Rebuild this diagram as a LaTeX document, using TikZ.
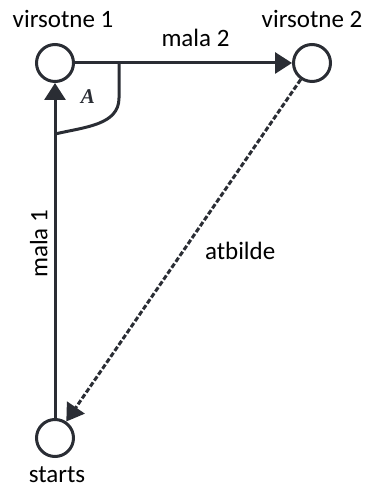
\documentclass[tikz,border=0pt]{standalone}
\usepackage{fontspec}
\setmainfont{Carlito}
\newfontfamily\anglefont{Liberation Serif}
\usepackage{tikz}
\usetikzlibrary{arrows.meta,positioning,calc}
\definecolor{edgegray}{HTML}{2A2D34}

\begin{document}
\begin{tikzpicture}[
				x=0.5pt,y=-0.5pt,
				every node/.style={font=\fontsize{12.5}{15}\selectfont},
				vert/.style={circle,draw=edgegray,line width=1.5pt,fill=white,
						minimum size=18.5pt,inner sep=0pt},
				lbl/.style={inner sep=0pt,text=black},
				flow/.style={-{Triangle[length=8.5pt,width=10.5pt]},line width=1.5pt,edgegray},
				back/.style={flow,dash pattern=on 2.5pt off 1.1pt}]

				\useasboundingbox (0,0) rectangle (367,485);

				\node[vert] (v1) at (55,63) {};
				\node[vert] (v2) at (312,63) {};
				\node[vert] (st) at (55,438) {};

				\node[lbl,above=7.5pt of v1,xshift=4pt] (v1lbl) {virsotne 1};
				\node[lbl,above=7.5pt of v2] (v2lbl) {virsotne 2};
				\node[lbl,below=4pt of st,xshift=1pt] (stlbl) {starts};

				% angle mark
				\coordinate (a1) at ($(v1)+(64,0)$);
				\coordinate (a2) at ($(v1)+(0,71)$);
				\draw[line width=1.5pt,edgegray] (a1) -- ++(0,35)
						.. controls +(0,27) and +(30,-7) .. (a2);
				\node[lbl,font=\anglefont\fontsize{10.5}{12}\selectfont\bfseries\itshape,
						text=edgegray] (alab) at ($(v1)+(33,34)$) {A};

				\draw[flow] (st) -- (v1);
				\draw[flow] (v1) -- node[lbl,above=7.5pt,xshift=6pt] (m2lbl) {mala 2} (v2);
				\draw[back] (v2) -- node[lbl,right=10pt] (atlbl) {atbilde} (st);

				\node[lbl,rotate=90,anchor=south] (m1lbl)
				at ($(st.north)!0.52!(v1.south)+(-3.5pt,0)$) {mala 1};
			\end{tikzpicture}
\end{document}
